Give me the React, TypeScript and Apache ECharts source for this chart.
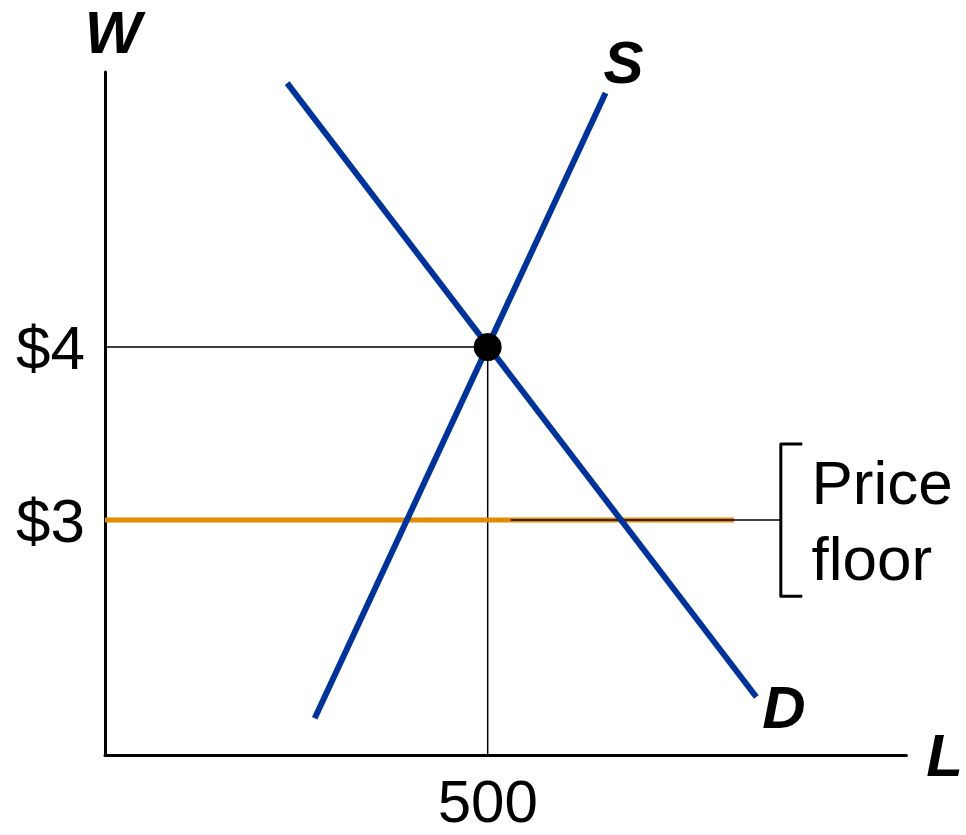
import React, { useEffect, useRef } from "react";
import * as echarts from "echarts";

// Labour market: supply and demand with a price floor (minimum wage)
const wageTicks = [3, 4];
const labourTicks = [500];
const equilibrium = [500, 4];
const priceFloor = 3;

const supplyLine = [
  [274, 1.855],
  [654, 5.468],
];
const demandLine = [
  [238, 5.526],
  [851, 1.977],
];
const floorLine = [
  [0, priceFloor],
  [822, priceFloor],
];
const floorLeader = [
  [530, priceFloor],
  [883, priceFloor],
];
const bracket = [
  [911, 3.44],
  [883, 3.44],
  [883, 2.56],
  [911, 2.56],
];

const BLUE = "#003399";
const ORANGE = "#e08a00";
const FONT = "Liberation Sans, Arial, sans-serif";

export default function App() {
  const ref = useRef<HTMLDivElement>(null);

  useEffect(() => {
    if (!ref.current) return;
    const chart = echarts.init(ref.current, null, { renderer: "svg" });
    const italicName = {
      fontFamily: FONT,
      fontSize: 60,
      lineHeight: 50,
      fontWeight: "bold" as const,
      fontStyle: "italic" as const,
      color: "#000",
    };
    chart.setOption({
      animation: false,
      backgroundColor: "#fff",
      grid: { left: 105, right: 59, top: 72, bottom: 80 },
      xAxis: {
        type: "value",
        min: 0,
        max: 1047,
        name: "L",
        nameLocation: "end",
        nameGap: 20,
        nameTextStyle: { ...italicName, align: "left", verticalAlign: "middle" },
        axisLine: { show: true, onZero: false, lineStyle: { color: "#000", width: 3 } },
        axisTick: { show: false },
        splitLine: { show: false },
        axisLabel: {
          customValues: labourTicks,
          fontFamily: FONT,
          fontSize: 60,
          lineHeight: 48,
          color: "#000",
          margin: 22,
        },
      },
      yAxis: {
        type: "value",
        min: 1.642,
        max: 5.59,
        name: "W",
        nameLocation: "end",
        nameGap: 40,
        nameTextStyle: { ...italicName, align: "center", verticalAlign: "middle", padding: [0, 0, 0, 16] },
        axisLine: { show: true, onZero: false, lineStyle: { color: "#000", width: 3 } },
        axisTick: { show: false },
        splitLine: { show: false },
        axisLabel: {
          customValues: wageTicks,
          formatter: (v: number) => "$" + v,
          fontFamily: FONT,
          fontSize: 62,
          color: "#000",
          margin: 20,
        },
      },
      series: [
        {
          type: "line",
          data: [
            [0, equilibrium[1]],
            equilibrium,
            [equilibrium[0], 1.642],
          ],
          symbol: "none",
          lineStyle: { color: "#000", width: 1.5 },
          silent: true,
          z: 1,
        },
        {
          type: "line",
          data: floorLine,
          symbol: "none",
          lineStyle: { color: ORANGE, width: 5 },
          clip: false,
          z: 2,
        },
        {
          type: "line",
          data: floorLeader,
          symbol: "none",
          lineStyle: { color: "#000", width: 1.5 },
          clip: false,
          z: 3,
        },
        {
          type: "line",
          data: bracket,
          symbol: "none",
          lineStyle: { color: "#000", width: 3, join: "round" },
          clip: false,
          z: 3,
        },
        {
          type: "line",
          data: supplyLine,
          symbol: "none",
          lineStyle: { color: BLUE, width: 6 },
          clip: false,
          endLabel: {
            show: true,
            formatter: "S",
            distance: 0,
            offset: [-2, -31],
            ...italicName,
          },
          z: 4,
        },
        {
          type: "line",
          data: demandLine,
          symbol: "none",
          lineStyle: { color: BLUE, width: 6 },
          clip: false,
          endLabel: {
            show: true,
            formatter: "D",
            distance: 0,
            offset: [6, 10],
            ...italicName,
          },
          z: 4,
        },
        {
          type: "scatter",
          data: [equilibrium],
          symbolSize: 28,
          itemStyle: { color: "#000", opacity: 1 },
          z: 5,
        },
        {
          type: "scatter",
          data: [[923, priceFloor]],
          symbolSize: 0,
          clip: false,
          itemStyle: { opacity: 1 },
          label: {
            show: true,
            formatter: "Price\nfloor",
            position: "right",
            distance: 0,
            fontFamily: FONT,
            fontSize: 62,
            lineHeight: 76,
            color: "#000",
            align: "left",
          },
          z: 5,
        },
      ],
    });
    return () => chart.dispose();
  }, []);

  return (
    <div
      ref={ref}
      style={{ position: "fixed", left: 0, top: 0, width: 966, height: 835 }}
    />
  );
}
